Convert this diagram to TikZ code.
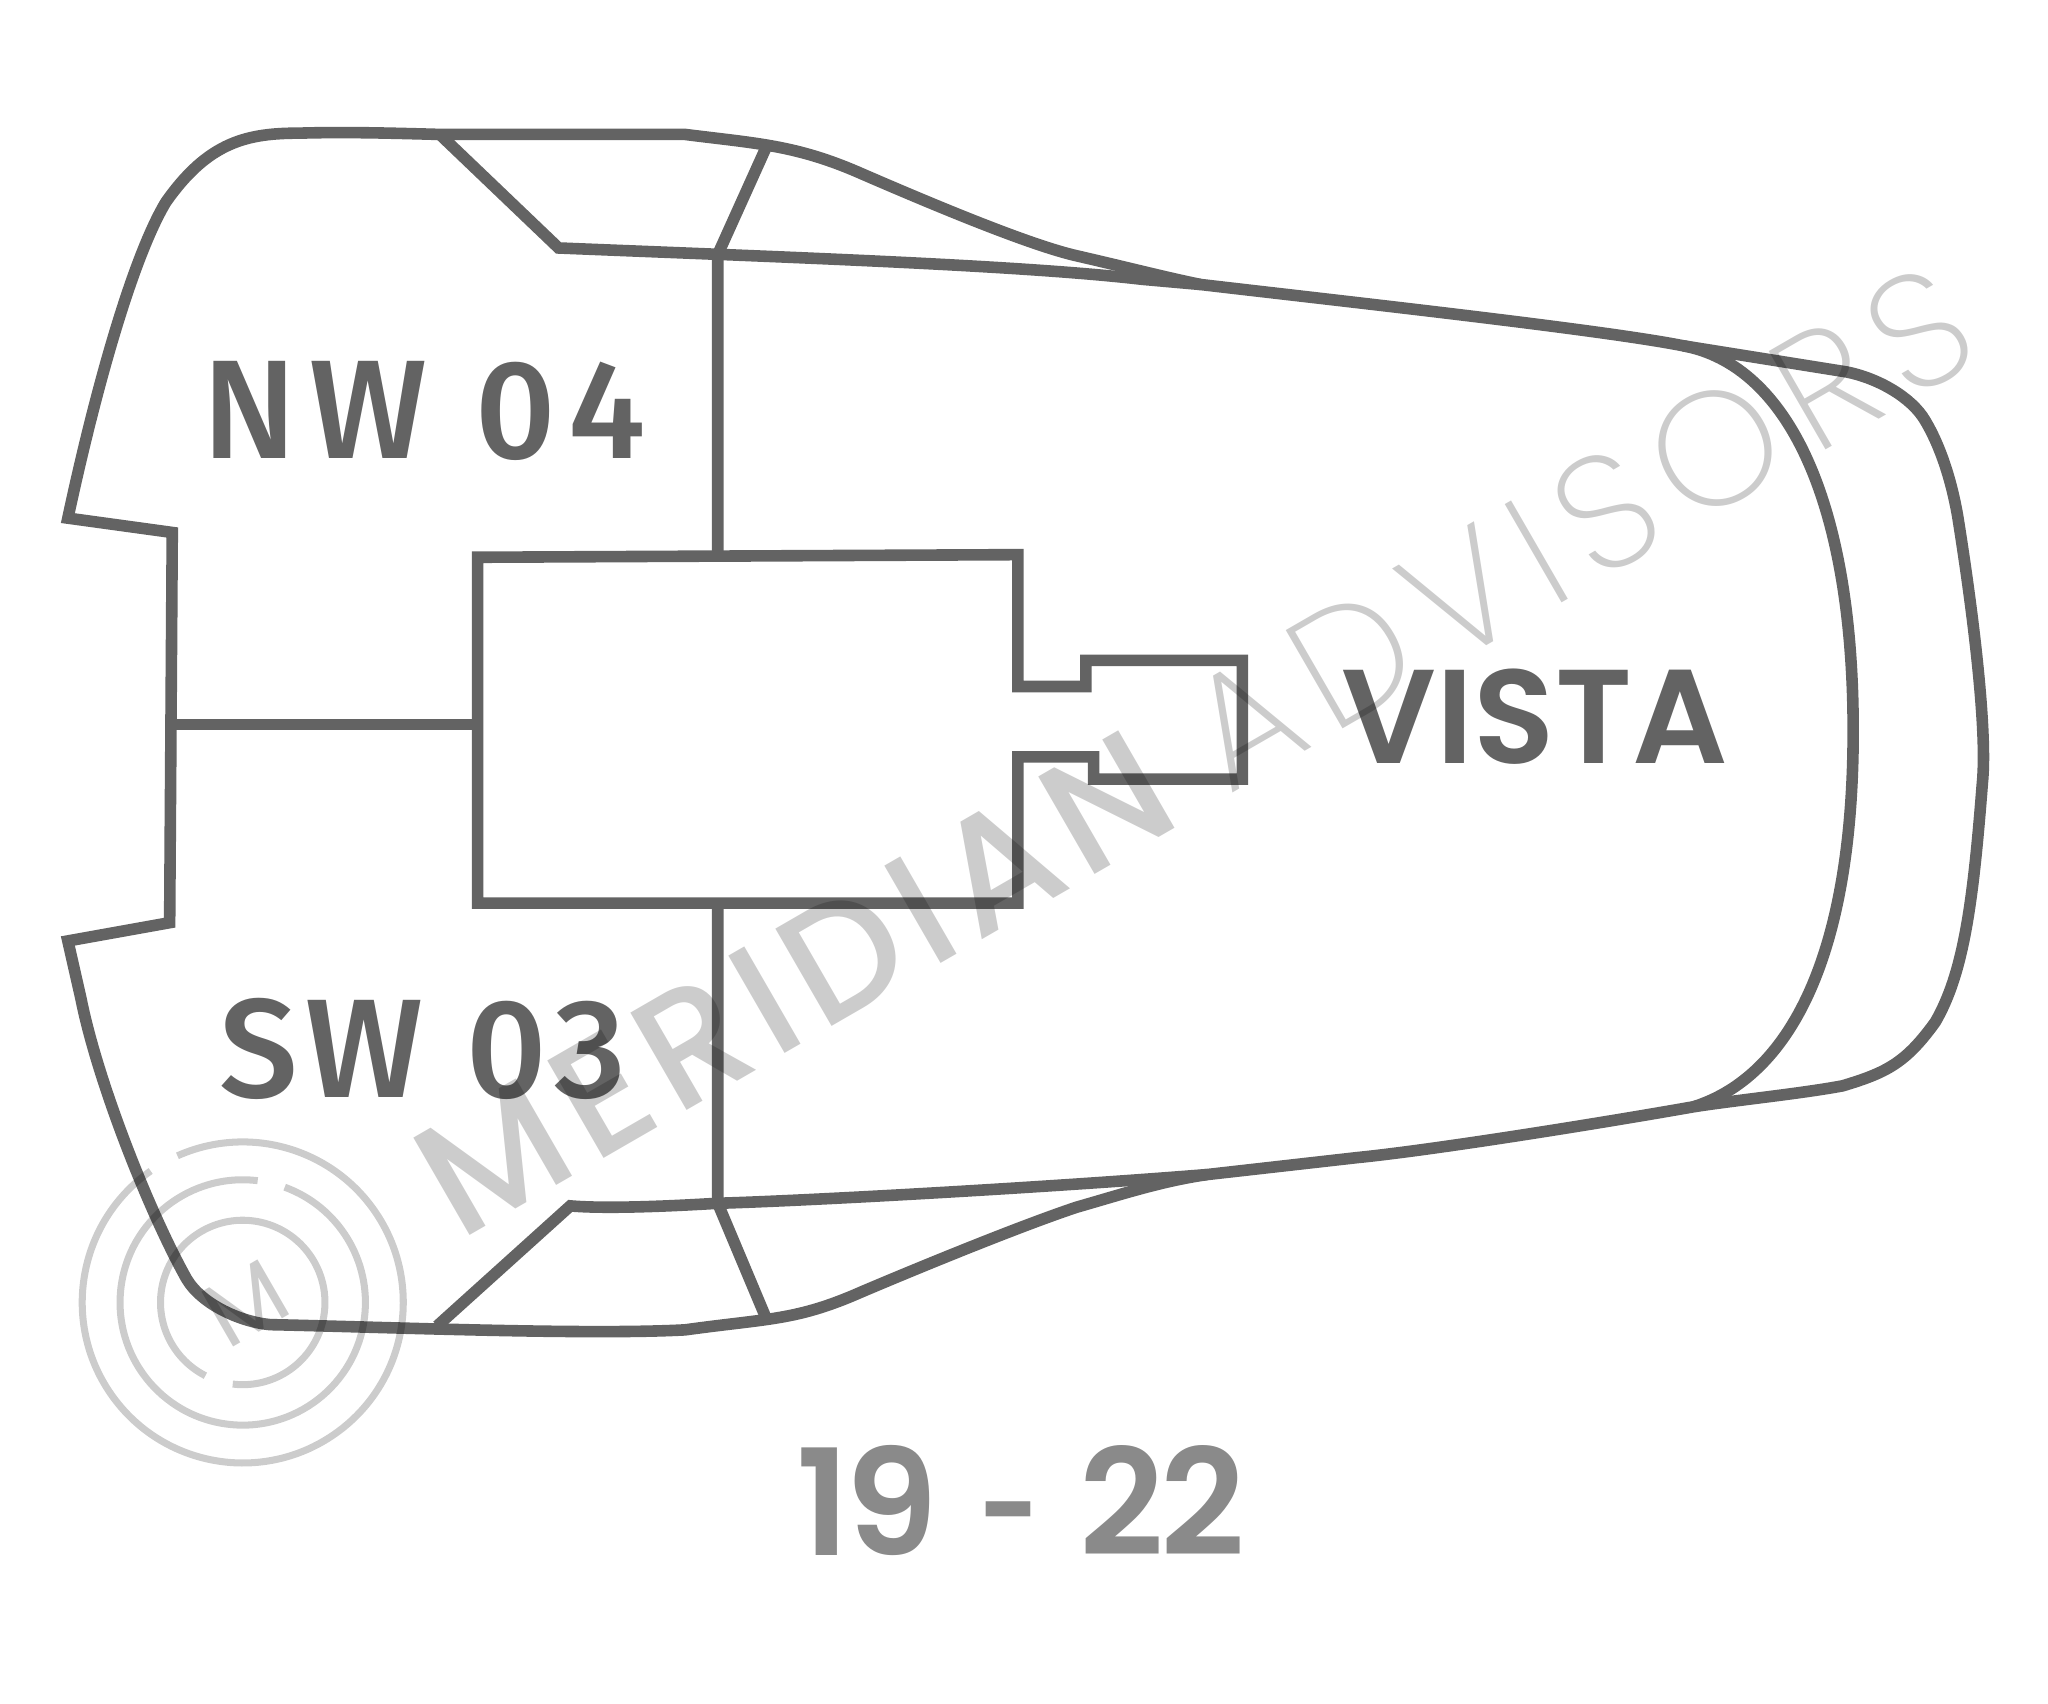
\documentclass[tikz,border=0pt]{standalone}
\usepackage{fontspec}
\setmainfont{Lato}
\newfontfamily\labelfont[LetterSpace=6]{Fira Sans Medium}
\newfontfamily\widefont[LetterSpace=9]{Fira Sans Medium}
\newfontfamily\dashfont{Fira Sans Medium}
\newfontfamily\vistafont{Poppins SemiBold}
\newfontfamily\rangefont[LetterSpace=-3]{Poppins SemiBold}
\newfontfamily\markfont[LetterSpace=7]{Poppins Medium}
\newfontfamily\thinfont[LetterSpace=11]{Poppins ExtraLight}
\newfontfamily\sealfont{Poppins}
\usetikzlibrary{positioning}
\definecolor{planline}{HTML}{636363}
\definecolor{rangegray}{HTML}{8A8A8A}
\tikzset{
  plan/.style={draw=planline, line width=3.3pt, line join=miter},
  wing/.style={text=planline, inner sep=0pt, font=\labelfont\fontsize{40pt}{40pt}\selectfont},
  stamp/.style={draw=black, draw opacity=0.2, line width=2pt},
  wmark/.style={text=black, text opacity=0.2, rotate=30, inner sep=0pt}
}

\begin{document}
\begin{tikzpicture}[x=0.01305cm, y=-0.01305cm]
  \useasboundingbox (0,0) rectangle (1569.3,1305);

  % Outline
  \draw [plan] (52,397) .. controls (75,290) and (103,195) .. (127,155)
    .. controls (160,108) and (190,102) .. (230,102)
    .. controls (265,101) and (300,102) .. (337,103) -- (525,103)
    .. controls (580,110) and (610,111) .. (660,133)
    .. controls (720,159) and (790,188) .. (825,196)
    .. controls (860,204) and (895,213) .. (920,218)
    .. controls (1040,232) and (1230,253) .. (1290,265)
    -- (1415,285)
    .. controls (1440,290) and (1465,305) .. (1475,322)
    .. controls (1490,347) and (1497,378) .. (1500,395)
    .. controls (1512,470) and (1523,560) .. (1519,600)
    .. controls (1512,690) and (1505,745) .. (1483,783)
    .. controls (1460,815) and (1445,822) .. (1412,832)
    .. controls (1380,838) and (1330,843) .. (1298,848)
    .. controls (1230,860) and (1100,881) .. (1040,887)
    -- (925,900)
    .. controls (890,905) and (860,915) .. (825,925)
    .. controls (780,940) and (700,973) .. (660,990)
    .. controls (610,1012) and (590,1010) .. (525,1019)
    .. controls (450,1023) and (300,1017) .. (207,1015)
    .. controls (185,1013) and (155,1000) .. (143,980)
    .. controls (115,930) and (75,830) .. (62,765)
    -- (52,721) -- (130,707) -- (132,408) -- cycle;

  % Inner lines
  \draw [plan] (337,103) -- (428,190)
    .. controls (600,197) and (780,203) .. (875,214) -- (920,218);
  \draw [plan] (1290,265)
    .. controls (1370,280) and (1420,385) .. (1420,560)
    .. controls (1420,735) and (1370,825) .. (1298,848);
  \draw [plan] (925,900) .. controls (800,910) and (620,920) .. (550,922)
    .. controls (500,925) and (460,926) .. (437,924) -- (335,1016);
  \draw [plan] (587,113) -- (550,195) -- (550,427);
  \draw [plan] (550,692) -- (550,922) -- (587,1010);
  \draw [plan] (132,555) -- (366,555);

  % Core
  \draw [plan] (366,427) -- (780,425) -- (780,526) -- (832,526) -- (832,506)
    -- (952,506) -- (952,597) -- (838,597) -- (838,580) -- (780,580)
    -- (780,692) -- (366,692) -- cycle;

  % Labels
  \node [wing, font=\widefont\fontsize{40pt}{40pt}\selectfont] (nw) at (325,315) {NW 04};
  \node [wing] (sw) at (324,804) {SW 03};
  \node [wing, font=\vistafont\fontsize{38pt}{38pt}\selectfont] (vista) at (1176,549) {VISTA};
  \node [text=rangegray, inner sep=0pt, font=\rangefont\fontsize{42pt}{42pt}\selectfont] (floors) at (782,1150) {19\kern3pt\ {\dashfont -}\ \kern3pt 22};

  % Watermark
  \node [wmark, font=\markfont\fontsize{46pt}{46pt}\selectfont] (brand) at (609,753) {MERIDIAN};
  \node [wmark, font=\thinfont\fontsize{46pt}{46pt}\selectfont] (advisors) at (1210,404) {ADVISORS};
  \draw [stamp] (186,998) ++(-125:123) arc (-125:-474:123);
  \draw [stamp] (186,998) ++(-83:94) arc (-83:-430:94);
  \draw [stamp] (186,998) ++(-263:63) arc (-263:-603:63);
  \node [wmark, font=\sealfont\fontsize{26pt}{26pt}\selectfont] (seal) at (188,999) {M};
\end{tikzpicture}
\end{document}
